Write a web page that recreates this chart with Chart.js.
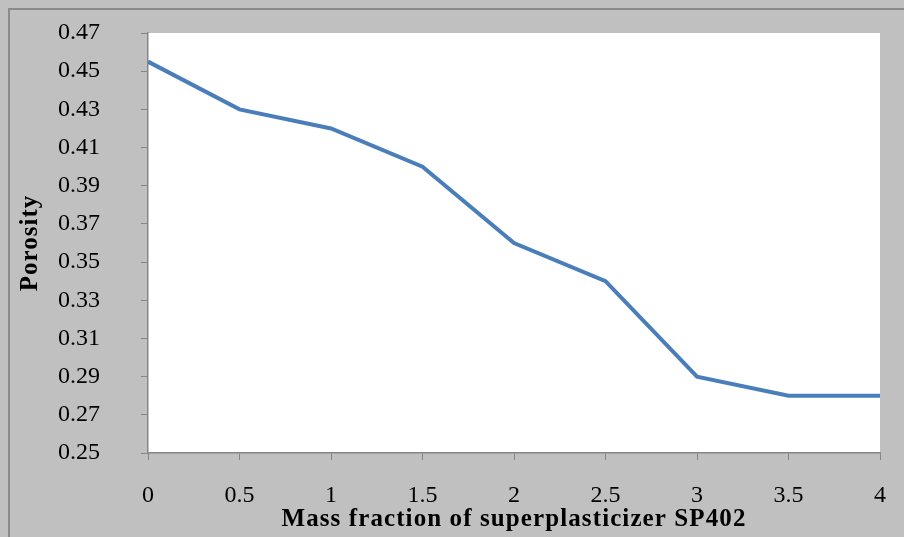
<!DOCTYPE html>
<html><head><meta charset="utf-8">
<script src="https://cdn.jsdelivr.net/npm/chart.js@4"></script>
<style>html,body{margin:0;padding:0;background:#c0c0c0;overflow:hidden;}canvas{display:block;}</style>
</head><body><canvas id="c" width="904" height="537"></canvas>
<script>
const massFraction = [0, 0.5, 1, 1.5, 2, 2.5, 3, 3.5, 4];
const porosity = [0.455, 0.43, 0.42, 0.40, 0.36, 0.34, 0.29, 0.28, 0.28];
const xTitle = 'Mass fraction of superplasticizer SP402';
const yTitle = 'Porosity';

const bgPlugin = {
  id: 'bg',
  beforeDraw(chart) {
    const ctx = chart.ctx, a = chart.chartArea;
    ctx.save();
    ctx.fillStyle = '#c0c0c0';
    ctx.fillRect(0, 0, chart.width, chart.height);
    ctx.strokeStyle = '#8a8a8a';
    ctx.lineWidth = 2;
    ctx.strokeRect(9, 9, chart.width + 20, chart.height + 20);
    ctx.fillStyle = '#ffffff';
    ctx.fillRect(a.left, a.top, a.right - a.left, a.bottom - a.top);
    ctx.restore();
  }
};

function spacedTitle(s, sp) {
  if (!s._spaced) {
    const orig = s.drawTitle;
    s.drawTitle = function () {
      this.ctx.save();
      this.ctx.letterSpacing = sp;
      orig.call(this);
      this.ctx.restore();
    };
    s._spaced = true;
  }
}

new Chart(document.getElementById('c'), {
  type: 'line',
  data: {
    datasets: [{
      data: massFraction.map((x, i) => ({x, y: porosity[i]})),
      borderColor: '#4a7ebb',
      borderWidth: 4,
      pointRadius: 0,
      tension: 0,
      fill: false
    }]
  },
  options: {
    responsive: false,
    animation: false,
    devicePixelRatio: 1,
    layout: {padding: {left: 8, top: 33, right: 24, bottom: 0}},
    plugins: {legend: {display: false}, tooltip: {enabled: false}},
    scales: {
      x: {
        type: 'linear', min: 0, max: 4,
        afterFit(s) { s.height = 84; s.paddingLeft = 0; s.paddingRight = 0; spacedTitle(s, '1.1px'); },
        ticks: {stepSize: 0.5, color: '#000', padding: 21, maxRotation: 0, autoSkip: false,
          font: {family: 'Liberation Serif', size: 24},
          callback: v => Number(v.toFixed(1)).toString()},
        grid: {drawOnChartArea: false, drawTicks: true, tickLength: 7, color: '#868686'},
        border: {color: '#868686', width: 1.5},
        title: {display: true, text: xTitle, color: '#000', padding: {top: 0, bottom: 2}, font: {family: 'Liberation Serif', size: 25, weight: 'bold'}}
      },
      y: {
        min: 0.25, max: 0.47,
        afterFit(s) { s.width = 140; s.paddingTop = 0; s.paddingBottom = 0; spacedTitle(s, '1px'); },
        ticks: {stepSize: 0.02, color: '#000', padding: 41, autoSkip: false,
          font: {family: 'Liberation Serif', size: 24},
          callback: v => Number(v.toFixed(2)).toString()},
        grid: {drawOnChartArea: false, drawTicks: true, tickLength: 7, color: '#868686'},
        border: {color: '#868686', width: 1.5},
        title: {display: true, text: yTitle, color: '#000', padding: {top: 8, bottom: 0}, font: {family: 'Liberation Serif', size: 25, weight: 'bold'}}
      }
    }
  },
  plugins: [bgPlugin]
});
</script></body></html>
